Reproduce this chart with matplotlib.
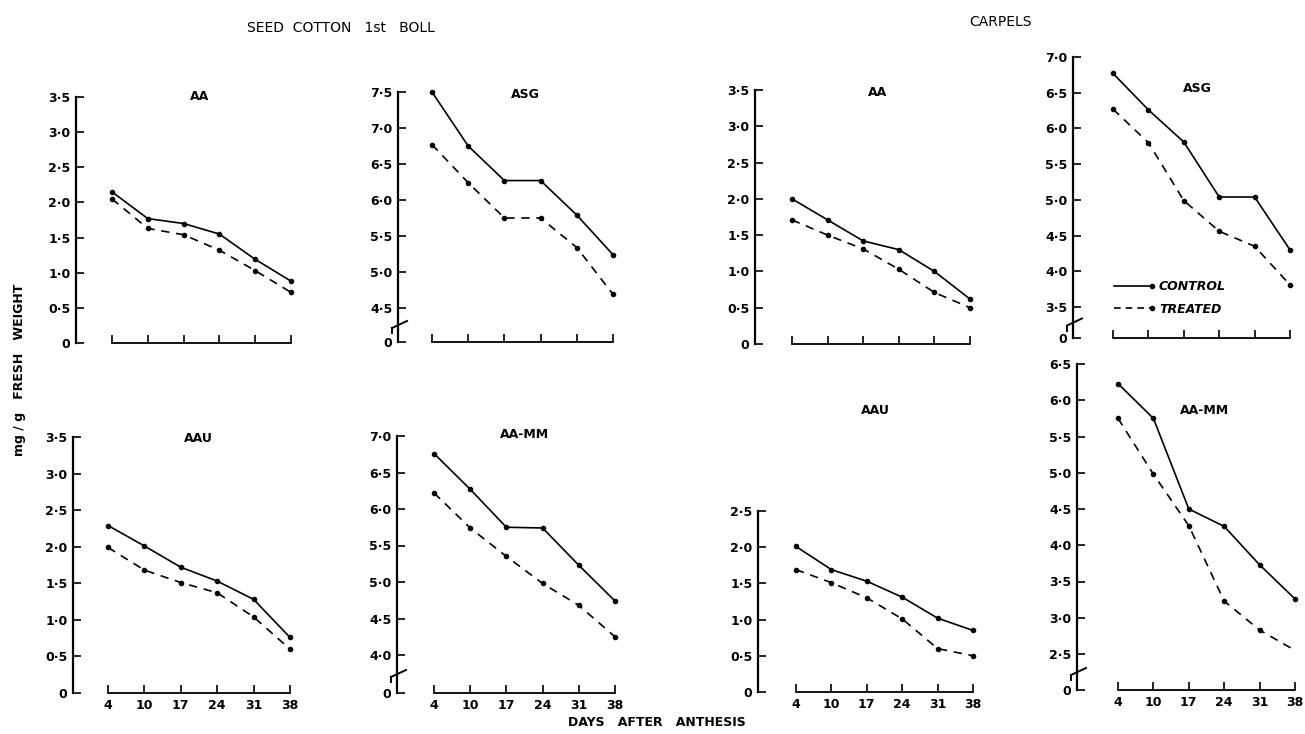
"""
Ascorbic acid content of seed cotton (1st boll) and carpels,
control vs treated, 4-38 days after anthesis.
"""

import matplotlib
matplotlib.use("Agg")
import matplotlib.pyplot as plt
import matplotlib.transforms as mtransforms
from matplotlib.lines import Line2D
from matplotlib.legend_handler import HandlerLine2D

# ─── Data ────────────────────────────────────────────────────────────────────

days = ["4", "10", "17", "24", "31", "38"]

seed_aa_control = [2.15, 1.77, 1.70, 1.55, 1.19, 0.88]
seed_aa_treated = [2.05, 1.63, 1.54, 1.32, 1.03, 0.72]
seed_asg_control = [7.50, 6.75, 6.27, 6.27, 5.79, 5.24]
seed_asg_treated = [6.77, 6.24, 5.75, 5.75, 5.34, 4.69]
seed_aau_control = [2.29, 2.01, 1.72, 1.53, 1.28, 0.76]
seed_aau_treated = [1.99, 1.68, 1.51, 1.37, 1.04, 0.60]
seed_aamm_control = [6.76, 6.27, 5.75, 5.74, 5.23, 4.74]
seed_aamm_treated = [6.22, 5.74, 5.35, 4.98, 4.68, 4.25]

carp_aa_control = [2.00, 1.71, 1.42, 1.30, 1.00, 0.62]
carp_aa_treated = [1.71, 1.50, 1.31, 1.03, 0.71, 0.50]
carp_asg_control = [6.77, 6.26, 5.81, 5.04, 5.04, 4.30]
carp_asg_treated = [6.27, 5.80, 4.99, 4.56, 4.35, 3.81]
carp_aau_control = [2.01, 1.69, 1.53, 1.31, 1.02, 0.85]
carp_aau_treated = [1.69, 1.51, 1.30, 1.01, 0.60, 0.50]
carp_aamm_control = [6.23, 5.75, 4.50, 4.26, 3.73, 3.26]
carp_aamm_treated = [5.75, 4.98, 4.27, 3.23, 2.83, 2.55]

# ─── Layout (pixel positions in the 1305x734 image) ─────────────────────────

W, H = 1305, 734
FONT = "DejaVu Sans"

# title, control, treated, yaxis_x, x_day4, x_day38, y_top_px, y_zero_px,
# top value, lowest tick above the break (None = no break), its pixel y,
# title position, show x tick labels
PANELS = [
    ("AA", seed_aa_control, seed_aa_treated, 76, 112, 291, 97, 343,
     3.5, None, None, (200, 97), False),
    ("ASG", seed_asg_control, seed_asg_treated, 398, 432, 613, 92, 342,
     7.5, 4.5, 308, (525, 94), False),
    ("AA", carp_aa_control, carp_aa_treated, 755, 792, 970, 90, 344,
     3.5, None, None, (878, 92), False),
    ("ASG", carp_asg_control, carp_asg_treated, 1073, 1113, 1290, 57, 338,
     7.0, 3.5, 307, (1197, 89), False),
    ("AAU", seed_aau_control, seed_aau_treated, 73, 108, 290, 437, 693,
     3.5, None, None, (198, 438), True),
    ("AA-MM", seed_aamm_control, seed_aamm_treated, 397, 434, 615, 436, 693,
     7.0, 4.0, 655, (525, 435), True),
    ("AAU", carp_aau_control, carp_aau_treated, 758, 796, 973, 511, 692,
     2.5, None, None, (875, 410), True),
    ("AA-MM", carp_aamm_control, carp_aamm_treated, 1077, 1118, 1295, 364, 690,
     6.5, 2.5, 654, (1205, 410), True),
]


class EndMarkerHandler(HandlerLine2D):
    """Legend line with the dot only at its right end."""

    def create_artists(self, legend, orig_handle, xdescent, ydescent,
                       width, height, fontsize, trans):
        artists = super().create_artists(legend, orig_handle, xdescent,
                                         ydescent, width, height, fontsize,
                                         trans)
        for art in artists:
            n = len(art.get_xdata())
            art.set_markevery([n - 1])
        return artists


def px_rect(left, top, right, bottom):
    return [left / W, 1 - bottom / H, (right - left) / W, (bottom - top) / H]


def fmt(v):
    return f"{v:.1f}".replace(".", "·")


fig = plt.figure(figsize=(W / 100, H / 100), dpi=100)
fig.patch.set_facecolor("white")

for i, (title, ctrl, trt, yx, x4, x38, ytop, yzero, top, low, low_px,
        title_xy, show_x) in enumerate(PANELS):
    unit_x = (x38 - x4) / 5
    ax = fig.add_axes(px_rect(yx, ytop, x38 + 10, yzero))
    ax.set_xlim(-(x4 - yx) / unit_x, 5 + 10 / unit_x)

    if low is None:
        bottom = 0.0
        ticks = [k * 0.5 for k in range(int(round(top / 0.5)) + 1)]
        labels = ["0"] + [fmt(t) for t in ticks[1:]]
    else:
        ppu = (low_px - ytop) / (top - low)
        bottom = low - (yzero - low_px) / ppu
        vals = [low + k * 0.5 for k in range(int(round((top - low) / 0.5)) + 1)]
        ticks = [bottom] + vals
        labels = ["0"] + [fmt(t) for t in vals]
    ax.set_ylim(bottom, top)
    ax.set_yticks(ticks)
    ax.set_yticklabels(labels, fontsize=9, fontweight="bold", family=FONT)

    x = list(range(len(days)))
    ax.plot(x, ctrl, color="black", lw=1.2, marker="o", ms=3, clip_on=False)
    # last carpel AA-MM treated segment has no end dot in the original
    ax.plot(x, trt, color="black", lw=1.2, ls=(0, (5, 4)), marker="o", ms=3,
            markevery=list(range(5)) if i == 7 else None, clip_on=False)

    ax.set_xticks(x)
    if show_x:
        ax.set_xticklabels(days, fontsize=9, fontweight="bold", family=FONT)
    else:
        ax.set_xticklabels([])

    for side in ("top", "right"):
        ax.spines[side].set_visible(False)
    ax.spines["bottom"].set_bounds(0, 5)
    ax.spines["left"].set_linewidth(1.6)
    ax.spines["bottom"].set_linewidth(1.3)
    ax.tick_params(axis="y", direction="in", length=6, width=1.2, pad=4)
    ax.tick_params(axis="x", direction="in", length=6, width=1.2, pad=4)

    # axis break mark
    if low is not None:
        yb = (bottom + low) / 2
        ppu_b = (yzero - ytop) / (top - bottom)
        width_px = x38 + 10 - yx
        trans = mtransforms.blended_transform_factory(ax.transAxes, ax.transData)
        ax.plot([-6 / width_px, 9 / width_px], [yb - 3 / ppu_b, yb + 4 / ppu_b],
                transform=trans, color="black", lw=1.4, clip_on=False)
        ax.plot([-6 / width_px, -6 / width_px], [yb - 3 / ppu_b, yb - 8 / ppu_b],
                transform=trans, color="black", lw=1.4, clip_on=False)

    fig.text(title_xy[0] / W, 1 - title_xy[1] / H, title, ha="center",
             va="center", fontsize=9, fontweight="bold", family=FONT)

    if i == 3:
        handles = [
            Line2D([], [], color="black", lw=1.2, marker="o", ms=3),
            Line2D([], [], color="black", lw=1.2, ls=(0, (4, 3)),
                   marker="o", ms=3),
        ]
        ax.legend(handles, ["CONTROL", "TREATED"], loc="upper left",
                  bbox_to_anchor=(1104 / W, 1 - 274 / H),
                  bbox_transform=fig.transFigure, frameon=False,
                  handlelength=3.6, handletextpad=0.3, labelspacing=0.75,
                  borderpad=0, numpoints=2,
                  handler_map={Line2D: EndMarkerHandler()},
                  prop={"size": 9, "weight": "bold", "style": "italic",
                        "family": FONT})

# ─── Headings ────────────────────────────────────────────────────────────────

fig.text(341 / W, 1 - 28 / H, "SEED  COTTON   1st   BOLL", ha="center",
         va="center", fontsize=10, family=FONT)
fig.text(1000 / W, 1 - 22 / H, "CARPELS", ha="center", va="center",
         fontsize=10, family=FONT)
fig.text(657 / W, 1 - 722 / H, "DAYS   AFTER   ANTHESIS", ha="center",
         va="center", fontsize=9, fontweight="bold", family=FONT)
fig.text(20 / W, 1 - 370 / H, "mg / g   FRESH   WEIGHT", ha="center",
         va="center", rotation=90, fontsize=9, fontweight="bold", family=FONT)

fig.savefig("out.png", dpi=100)
